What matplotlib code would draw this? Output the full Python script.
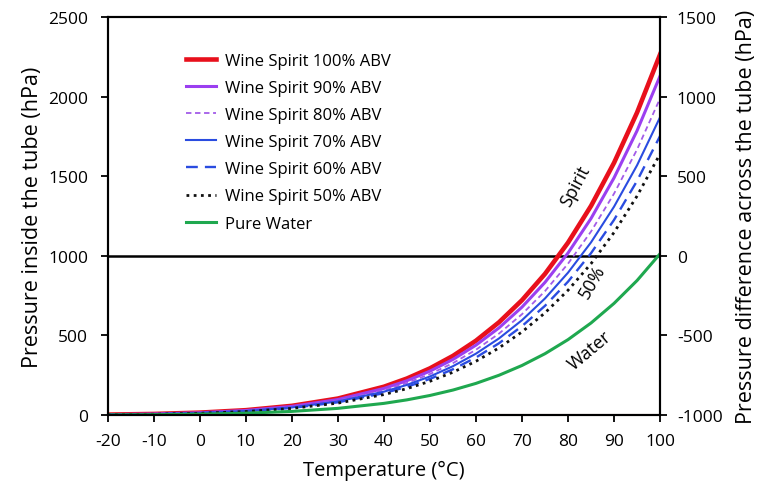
import matplotlib
matplotlib.use("Agg")
import matplotlib.pyplot as plt

# temperature steps (deg C)
temps = [-20, -10, 0, 10, 20, 30, 40, 45, 50, 55, 60, 65, 70, 75, 80, 85, 90, 95, 100]

# saturated vapour pressure (hPa)
abv100 = [3.3, 7.4, 15.7, 31.1, 58.3, 104.1, 178.3, 229.9, 293.7, 371.9, 467.4, 582.9, 721.7, 887.0, 1083, 1313.8, 1584.6, 1900, 2265]
abv90 = [3.1, 7.0, 14.8, 29.2, 54.8, 97.9, 167.6, 216.1, 276.1, 349.6, 439.4, 547.9, 678.4, 833.8, 1018, 1235, 1490, 1786, 2130]
abv80 = [2.9, 6.5, 13.8, 27.3, 51.2, 91.4, 156.5, 201.9, 257.9, 326.5, 410.4, 511.8, 633.7, 778.8, 950.9, 1153, 1391, 1668, 1989]
abv70 = [2.7, 6.1, 13.0, 25.7, 48.2, 86.0, 147.3, 189.9, 242.6, 307.2, 386.1, 481.5, 596.1, 732.7, 894.6, 1085, 1309, 1569, 1871]
abv60 = [2.6, 5.7, 12.2, 24.1, 45.1, 80.6, 138.0, 177.9, 227.3, 287.9, 361.8, 451.2, 558.6, 686.5, 838.2, 1017, 1226, 1471, 1753]
abv50 = [2.4, 5.4, 11.4, 22.5, 42.2, 75.4, 129.1, 166.4, 212.6, 269.3, 338.4, 422.0, 522.5, 642.2, 784.1, 951.2, 1147, 1376, 1640]
water = [1.0, 2.6, 6.1, 12.3, 23.4, 42.5, 73.8, 95.9, 123.4, 157.5, 199.3, 250.3, 311.8, 385.8, 474.1, 578.7, 701.8, 845.3, 1013.3]

names = ["Wine Spirit 100% ABV", "Wine Spirit 90% ABV", "Wine Spirit 80% ABV",
         "Wine Spirit 70% ABV", "Wine Spirit 60% ABV", "Wine Spirit 50% ABV", "Pure Water"]

xticks = list(range(-20, 101, 10))
yticks = [0, 500, 1000, 1500, 2000, 2500]
y2ticks = [-1000, -500, 0, 500, 1000, 1500]

plt.rcParams['font.family'] = ['Open Sans', 'DejaVu Sans']
plt.rcParams['axes.unicode_minus'] = False

fig = plt.figure(figsize=(7.64, 4.85), dpi=100)
ax = fig.add_axes([0.141, 0.142, 0.723, 0.821])

ax.plot(temps, abv100, color="#e8101c", lw=3.3, label=names[0])
ax.plot(temps, abv90, color="#9b3ff0", lw=2.2, label=names[1])
ax.plot(temps, abv80, color="#a35ce8", lw=1.3, ls=(0, (3, 2)), label=names[2])
ax.plot(temps, abv70, color="#2a4ce0", lw=1.5, label=names[3])
ax.plot(temps, abv60, color="#2a4ce0", lw=1.7, ls=(0, (5, 3)), label=names[4])
ax.plot(temps, abv50, color="#111111", lw=2.0, ls=(0, (1, 1.6)), label=names[5])
ax.plot(temps, water, color="#1fa84f", lw=2.2, label=names[6])

ax.axhline(1000, color="black", lw=1.8, zorder=1)
ax.axhline(0, color="#d8a07c", lw=1.5, zorder=1)

ax.set_xlim(-20, 100)
ax.set_ylim(0, 2500)
ax.set_xticks(xticks)
ax.set_yticks(yticks)
ax.tick_params(axis="y", direction="out", length=5, width=1.3, labelsize=12.5, pad=9)
ax.tick_params(axis="x", direction="out", length=5, width=1.3, labelsize=12.5, pad=8)
for s in ax.spines.values():
    s.set_linewidth(1.5)

ax.set_xlabel("Temperature (°C)", fontsize=14.5, labelpad=8)
ax.set_ylabel("Pressure inside the tube (hPa)", fontsize=15.5, labelpad=4)

ax2 = ax.twinx()
ax2.set_ylim(-1000, 1500)
ax2.set_yticks(y2ticks)
ax2.tick_params(direction="out", length=5, width=1.3, labelsize=12.5, pad=7)
for s in ax2.spines.values():
    s.set_linewidth(1.5)
ax2.set_ylabel("Pressure difference across the tube (hPa)", fontsize=15.5, labelpad=10)

ax.text(81.5, 1440, "Spirit", rotation=62, fontsize=13, ha="center", va="center")
ax.text(85.2, 840, "50%", rotation=60, fontsize=13, ha="center", va="center")
ax.text(84.7, 410, "Water", rotation=40, fontsize=13, ha="center", va="center")

leg = ax.legend(loc="upper left", bbox_to_anchor=(0.115, 0.948), frameon=False,
                fontsize=12, handlelength=1.8, labelspacing=0.67, handletextpad=0.5)

fig.savefig("out.png", dpi=100)
